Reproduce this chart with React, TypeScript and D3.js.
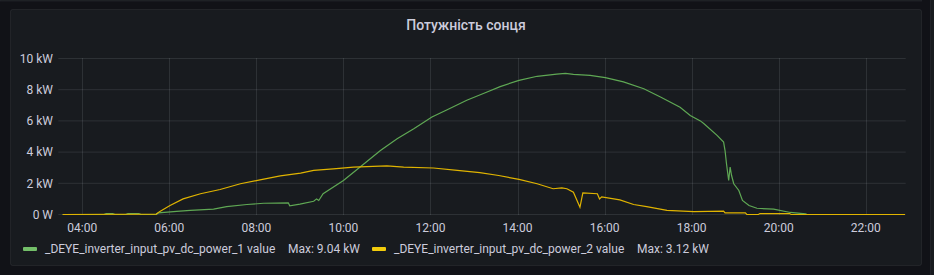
import React from "react";
import * as d3 from "d3";

const title = "Потужність сонця";
const seriesNames = ["_DEYE_inverter_input_pv_dc_power_1 value", "_DEYE_inverter_input_pv_dc_power_2 value"];
const seriesMax = ["Max: 9.04 kW", "Max: 3.12 kW"];
const yTicks = [0, 2, 4, 6, 8, 10];
const yTickLabels = ["0 W", "2 kW", "4 kW", "6 kW", "8 kW", "10 kW"];
const xTickHours = [4, 6, 8, 10, 12, 14, 16, 18, 20, 22];
const domainStart = "03:27";
const domainEnd = "22:55";

const pv1Times = ["03:33","04:30","04:33","04:42","04:45","05:00","05:03","05:18","05:21","05:42","05:45","06:10","06:29","07:01","07:19","07:47","08:10","08:44","08:46","09:00","09:19","09:23","09:26","09:32","10:00","10:23","10:51","11:14","11:37","12:02","12:23","12:50","13:18","13:36","14:02","14:27","14:54","15:06","15:17","15:40","16:01","16:26","16:54","17:17","17:44","17:58","18:12","18:17","18:35","18:44","18:46","18:48","18:51","18:53","18:55","18:58","19:05","19:10","19:19","19:30","19:53","20:16","20:37","20:39","22:54"];
const pv1Values = [0,0,0.05,0.05,0,0,0.05,0.05,0,0,0.1,0.2,0.26,0.34,0.51,0.64,0.72,0.75,0.56,0.66,0.85,1.0,0.9,1.33,2.18,3.04,4.1,4.85,5.5,6.25,6.72,7.32,7.85,8.2,8.6,8.86,9.0,9.04,8.98,8.92,8.77,8.5,8.06,7.53,6.88,6.35,6.0,5.82,5.07,4.64,4.1,3.25,2.18,3.04,2.5,1.97,1.54,0.9,0.58,0.4,0.34,0.13,0.04,0,0];

const pv2Times = ["03:33","05:42","05:47","06:01","06:19","06:43","07:10","07:38","08:05","08:33","09:01","09:19","09:46","10:14","10:41","11:00","11:23","12:04","12:37","13:08","13:34","14:02","14:27","14:49","15:01","15:08","15:17","15:26","15:30","15:50","15:53","15:56","16:21","16:40","16:58","17:26","18:03","18:44","18:46","19:14","19:16","19:32","19:34","20:15","20:17","22:54"];
const pv2Values = [0,0.03,0.2,0.58,1.0,1.33,1.6,1.97,2.22,2.48,2.65,2.83,2.93,3.04,3.08,3.12,3.04,2.98,2.83,2.68,2.5,2.25,1.97,1.65,1.71,1.65,1.43,0.46,1.39,1.33,1.0,1.13,0.94,0.64,0.5,0.26,0.19,0.21,0.1,0.1,0,0,0.06,0.06,0,0];

const colors = ["#73BF69", "#F2CC0C"];
const lineColors = ["#5fa854", "#e0b400"];

const toDate = (s: string) => {
  const [h, m] = s.split(":").map(Number);
  return new Date(2023, 5, 1, h, m);
};

export default function App() {
  const W = 934, H = 275;
  const x = d3.scaleTime().domain([toDate(domainStart), toDate(domainEnd)]).range([58.3, 905.7]);
  const y = d3.scaleLinear().domain([0, 10]).range([214.5, 58.5]);
  const line = d3.line<[Date, number]>().x(d => x(d[0])).y(d => y(d[1]));
  const s1 = pv1Times.map((t, i) => [toDate(t), pv1Values[i]] as [Date, number]);
  const s2 = pv2Times.map((t, i) => [toDate(t), pv2Values[i]] as [Date, number]);
  const grid = "rgba(240,250,255,0.10)";
  const font = "Roboto, Inter, sans-serif";
  const txt = "#ccccdc";
  const xt = xTickHours.map(h => new Date(2023, 5, 1, h, 0));
  return (
    <svg width={W} height={H} style={{ position: "absolute", left: 0, top: 0, display: "block" }} fontFamily={font}>
      <rect x={0} y={0} width={W} height={H} fill="#111217" />
      <rect x={0.5} y={-10} width={921} height={11} fill="#181b1f" stroke="rgba(204,204,220,0.07)" />
      <rect x={930.5} y={-10} width={20} height={300} fill="#181b1f" stroke="rgba(204,204,220,0.07)" />
      <rect x={10.5} y={9.5} width={911} height={256} rx={2} fill="#181b1f" stroke="rgba(204,204,220,0.08)" />
      <text x={466} y={30} textAnchor="middle" fill={txt} fontSize={14} fontWeight={500}>{title}</text>
      {yTicks.map((v, i) => (
        <g key={"y" + i}>
          <line x1={58.3} x2={905.7} y1={y(v)} y2={y(v)} stroke={grid} />
          <text x={53} y={y(v)} dy="0.35em" textAnchor="end" fill={txt} fontSize={12}>{yTickLabels[i]}</text>
        </g>
      ))}
      {xt.map((d, i) => (
        <g key={"x" + i}>
          <line x1={Math.round(x(d)) + 0.5} x2={Math.round(x(d)) + 0.5} y1={58} y2={215} stroke={grid} />
          <text x={x(d)} y={232} textAnchor="middle" fill={txt} fontSize={12}>{d3.timeFormat("%H:%M")(d)}</text>
        </g>
      ))}
      <path d={line(s1) || ""} fill="none" stroke={lineColors[0]} strokeWidth={1.2} />
      <path d={line(s2) || ""} fill="none" stroke={lineColors[1]} strokeWidth={1.2} />
      <rect x={23} y={247} width={14} height={4} rx={1} fill={colors[0]} />
      <text x={45} y={253} fill={txt} fontSize={12}>{seriesNames[0]}</text>
      <text x={288} y={253} fill={txt} fontSize={12}>{seriesMax[0]}</text>
      <rect x={372} y={247} width={14} height={4} rx={1} fill={colors[1]} />
      <text x={394} y={253} fill={txt} fontSize={12}>{seriesNames[1]}</text>
      <text x={637} y={253} fill={txt} fontSize={12}>{seriesMax[1]}</text>
    </svg>
  );
}
